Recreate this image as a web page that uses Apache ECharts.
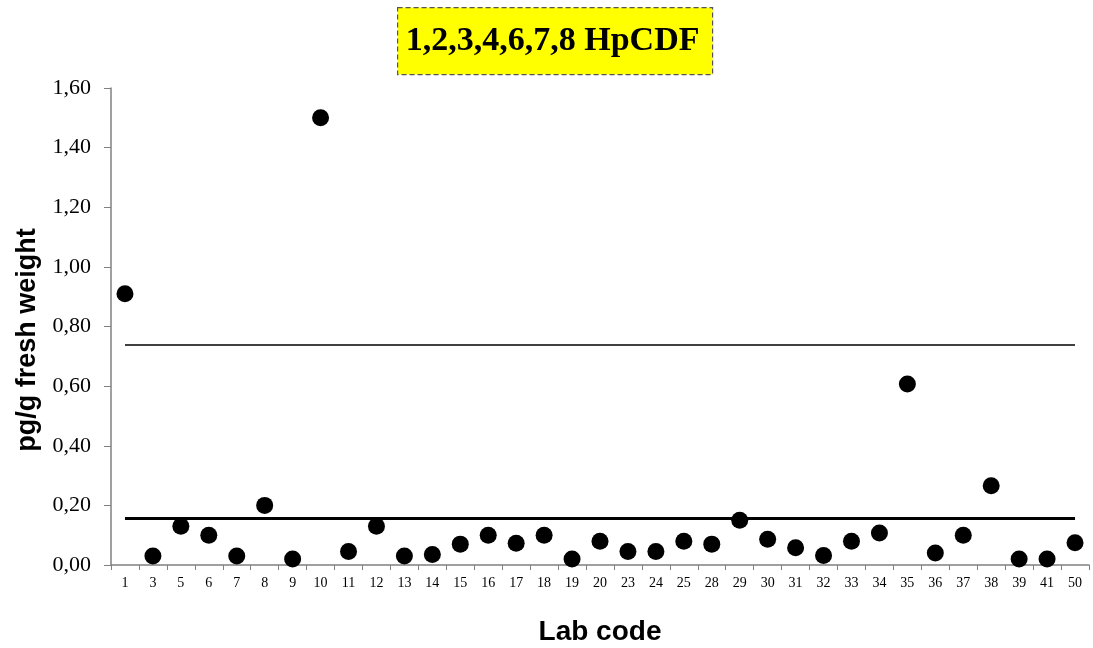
<!DOCTYPE html>
<html>
<head>
<meta charset="utf-8">
<script src="https://cdn.jsdelivr.net/npm/echarts@6/dist/echarts.min.js"></script>
<style>html,body{margin:0;padding:0;background:#fff;}#c{width:1093px;height:648px;}</style>
</head>
<body>
<div id="c"></div>
<script>
const labCodes = ['1','3','5','6','7','8','9','10','11','12','13','14','15','16','17','18','19','20','23','24','25','28','29','30','31','32','33','34','35','36','37','38','39','41','50'];
const values = [0.91,0.03,0.13,0.10,0.03,0.20,0.02,1.50,0.045,0.13,0.03,0.035,0.07,0.10,0.073,0.10,0.02,0.08,0.045,0.045,0.08,0.07,0.15,0.086,0.058,0.032,0.08,0.107,0.607,0.04,0.10,0.266,0.02,0.02,0.075];
const upperLimit = 0.74;
const assignedValue = 0.157;
const yTicks = { min: 0, max: 1.6, interval: 0.2 };
const titleText = '1,2,3,4,6,7,8 HpCDF';
const yName = 'pg/g fresh weight';
const xName = 'Lab code';

const chart = echarts.init(document.getElementById('c'));
chart.setOption({
  backgroundColor: '#ffffff',
  animation: false,
  grid: { left: 111, right: 4, top: 88, bottom: 83, containLabel: false, outerBoundsMode: 'none' },
  graphic: [{
    type: 'group', left: 397, top: 7,
    children: [
      { type: 'rect', shape: { x: 0, y: 0, width: 315, height: 67 },
        style: { fill: '#ffff00', stroke: '#555555', lineWidth: 1.2, lineDash: [5, 3] } },
      { type: 'text', x: 155, y: 34,
        style: { text: titleText, fill: '#000', font: 'bold 34px "Liberation Serif", "Times New Roman", serif',
                 textAlign: 'center', textVerticalAlign: 'middle' } }
    ]
  }, {
    type: 'text', x: 28, y: 340, rotation: Math.PI / 2,
    style: { text: yName, fill: '#000', font: 'bold 27px "Liberation Sans", Arial, sans-serif',
             textAlign: 'center', textVerticalAlign: 'middle' }
  }],
  xAxis: {
    type: 'category', data: labCodes, boundaryGap: true,
    name: xName, nameLocation: 'middle', nameGap: 53,
    nameTextStyle: { fontFamily: '"Liberation Sans", Arial, sans-serif', fontWeight: 'bold', fontSize: 28, color: '#000' },
    axisLine: { lineStyle: { color: '#808080', width: 1.5 } },
    axisTick: { show: true, length: 5, alignWithLabel: false, lineStyle: { color: '#808080', width: 1 } },
    axisLabel: { fontFamily: '"Liberation Serif", "Times New Roman", serif', fontSize: 14, color: '#000', margin: 11, interval: 0 },
    splitLine: { show: false }
  },
  yAxis: {
    type: 'value', min: yTicks.min, max: yTicks.max, interval: yTicks.interval,
    axisLine: { show: true, lineStyle: { color: '#808080', width: 1.5 } },
    axisTick: { show: true, length: 7, lineStyle: { color: '#808080', width: 1 } },
    axisLabel: { fontFamily: '"Liberation Serif", "Times New Roman", serif', fontSize: 22, color: '#000', margin: 20,
      formatter: v => v.toFixed(2).replace('.', ',') },
    splitLine: { show: false }
  },
  series: [{
    type: 'scatter', data: values, symbol: 'circle', symbolSize: 17,
    itemStyle: { color: '#000', opacity: 1 },
    markLine: {
      silent: true, symbol: 'none', label: { show: false },
      data: [
        [{ coord: [labCodes[0], upperLimit], lineStyle: { color: '#000', width: 1.5, type: 'solid' } },
         { coord: [labCodes[labCodes.length - 1], upperLimit] }],
        [{ coord: [labCodes[0], assignedValue], lineStyle: { color: '#000', width: 3, type: 'solid' } },
         { coord: [labCodes[labCodes.length - 1], assignedValue] }]
      ]
    }
  }]
});
</script>
</body>
</html>
